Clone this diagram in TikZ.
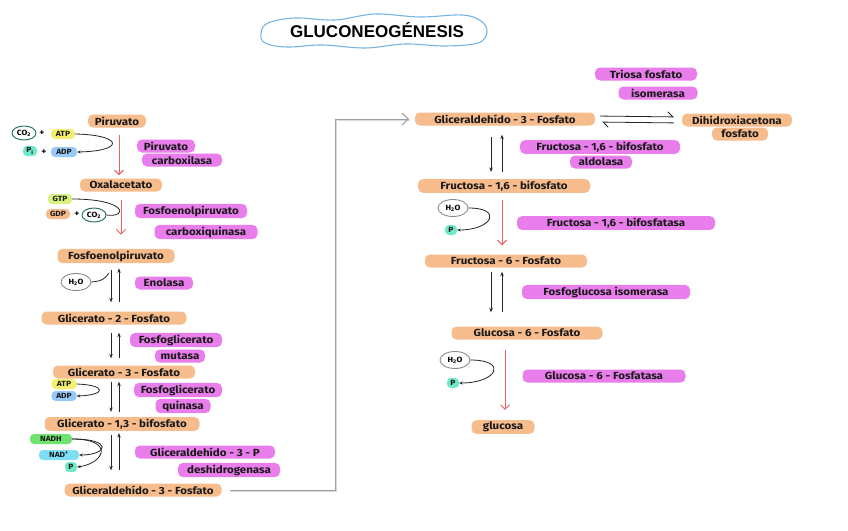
\documentclass[tikz,border=0pt]{standalone}
\usepackage{fontspec}
\setmainfont{Fira Sans}[FakeStretch=1.12]
\newfontfamily\titlefont{Liberation Sans}
\usetikzlibrary{arrows.meta,calc,shapes.geometric}
\definecolor{hlorange}{RGB}{247,188,140}
\definecolor{hlmag}{RGB}{232,125,235}
\definecolor{hlyellow}{RGB}{242,240,110}
\definecolor{hlygreen}{RGB}{215,242,125}
\definecolor{hlblue}{RGB}{150,200,248}
\definecolor{hlteal}{RGB}{110,232,200}
\definecolor{hlgreen}{RGB}{110,228,110}
\definecolor{hlcyan}{RGB}{125,222,245}
\definecolor{ringgreen}{RGB}{30,110,80}
\definecolor{ringgray}{RGB}{140,140,140}
\definecolor{redarrow}{RGB}{236,96,96}
\definecolor{cloudblue}{RGB}{120,180,225}
\tikzset{
  base/.style={font=\bfseries\fontsize{10.3}{12}\selectfont, text=black!90, inner sep=1.8pt, rounded corners=5pt, minimum height=13pt},
  org/.style={base, fill=hlorange},
  mag/.style={base, fill=hlmag},
  chip/.style={base, font=\bfseries\fontsize{7.5}{9}\selectfont, inner sep=1.3pt, rounded corners=4pt, minimum height=10pt},
  ring/.style={ellipse, line width=0.9pt, inner sep=0.6pt, font=\bfseries\fontsize{7.5}{9}\selectfont},
  plain/.style={font=\bfseries\fontsize{8.5}{9}\selectfont, inner sep=0.5pt},
  eqarr/.style={draw=black!85, line width=0.8pt, -{Stealth[length=4.5pt,width=3.5pt]}},
  harp/.style={draw=black!85, line width=0.8pt, -{Straight Barb[length=5pt,left]}},
  redarr/.style={draw=redarrow, line width=1pt, -{Straight Barb[length=4.5pt]}},
  curv/.style={draw=black!85, line width=0.8pt},
  curva/.style={curv, -{Stealth[length=3.5pt,width=3pt]}},
  conn/.style={draw=gray!75, line width=1pt, -{Straight Barb[length=6pt]}},
}
\begin{document}
\begin{tikzpicture}[x=1pt,y=-1pt]
\useasboundingbox[fill=white] (0,0) rectangle (848,530);

% ---------- title ----------
\draw[cloudblue, line width=1.1pt] plot[smooth cycle, tension=0.6] coordinates {
 (261,33) (268,23) (295,18) (335,20) (375,14) (420,17) (462,15) (481,21)
 (487,32) (478,43) (445,46) (405,44) (365,48) (322,45) (287,47) (265,43)};
\node[font=\titlefont\bfseries\fontsize{17}{20}\selectfont] (title) at (377,30) {GLUCONEOGÉNESIS};

% ---------- column coordinates ----------
\coordinate (cD) at (111,0);
\coordinate (cU) at (119,0);
\coordinate (cR1) at (119,0);
\coordinate (cR2) at (121,0);
\coordinate (rD) at (491,0);
\coordinate (rU) at (502,0);
\coordinate (rR1) at (502,0);
\coordinate (rR2) at (505,0);

% ---------- left column ----------
\node[org, minimum width=58pt] (pir) at (117,121) {Piruvato};
\node[ring, draw=ringgreen, minimum width=24pt, minimum height=14pt] (co2a) at (24,133) {CO\textsubscript{2}};
\node[plain] (pl1) at (42,133) {+};
\node[chip, fill=hlyellow, minimum width=24pt] (atp) at (63,134) {ATP};
\node[chip, fill=hlteal, minimum width=14pt] (pi) at (30,151) {P\textsubscript{i}};
\node[plain] (pl2) at (44,152) {+};
\node[chip, fill=hlblue, minimum width=26pt] (adp) at (64,152) {ADP};
\node[mag, minimum width=58pt] (pc1) at (166,146) {Piruvato};
\node[mag, minimum width=80pt] (pc2) at (182,160) {carboxilasa};

\node[org, minimum width=82pt] (oxa) at (121,185) {Oxalacetato};
\node[chip, fill=hlygreen, minimum width=24pt] (gtp) at (60,199) {GTP};
\node[chip, fill=hlorange, minimum width=24pt] (gdp) at (58,214) {GDP};
\node[plain] (pl3) at (77,214) {+};
\node[ring, draw=ringgreen, minimum width=24pt, minimum height=14pt] (co2b) at (94,215) {CO\textsubscript{2}};
\node[mag, minimum width=112pt] (pck1) at (191,211) {Fosfoenolpiruvato};
\node[mag, minimum width=103pt] (pck2) at (206,232) {carboxiquinasa};

\node[org, minimum width=117pt] (pep) at (116,256) {Fosfoenolpiruvato};
\node[ring, draw=ringgray, minimum width=30pt, minimum height=17pt] (h2oa) at (76,282) {H\textsubscript{2}O};
\coordinate (hxa) at (109,273);
\node[mag, minimum width=58pt] (eno) at (164,283) {Enolasa};

\node[org, minimum width=145pt] (g2p) at (114,318) {Glicerato - 2 - Fosfato};
\node[mag, minimum width=92pt] (pgm1) at (176,340) {Fosfoglicerato};
\node[mag, minimum width=50pt] (pgm2) at (180,356) {mutasa};

\node[org, minimum width=142pt] (g3p) at (124,372) {Glicerato - 3 - Fosfato};
\node[chip, fill=hlyellow, minimum width=25pt] (atp2) at (64,384) {ATP};
\node[chip, fill=hlblue, minimum width=25pt] (adp2) at (64,396) {ADP};
\node[mag, minimum width=88pt] (pgk1) at (178,390) {Fosfoglicerato};
\node[mag, minimum width=55pt] (pgk2) at (183,406) {quinasa};

\node[org, minimum width=155pt] (bpg) at (122,424) {Glicerato - 1,3 - bifosfato};
\node[chip, fill=hlgreen, minimum width=42pt] (nadh) at (51,439) {NADH};
\node[chip, fill=hlcyan, minimum width=40pt] (nad) at (59,455) {NAD\textsuperscript{+}};
\node[chip, fill=hlteal, minimum width=12pt] (pa) at (71,467) {P};
\node[mag, minimum width=140pt] (gd1) at (205,452) {Gliceraldehído - 3 - P};
\node[mag, minimum width=102pt] (gd2) at (229,470) {deshidrogenasa};

\node[org, minimum width=157pt] (gapL) at (143,490) {Gliceraldehído - 3 - Fosfato};

% left arrows
\draw[redarr, shorten <=7pt, shorten >=3pt] (pir.south -| cR1) -- (oxa.north -| cR1);
\draw[curva] (atp.east) .. controls +(48,1) and +(48,-1) .. (adp.east);

\draw[redarr, shorten <=8pt, shorten >=14pt] (oxa.south -| cR2) -- (pep.north -| cR2);
\draw[curv] (gtp.east) .. controls +(55,0) and +(22,3) .. (co2b.east);

\draw[eqarr, shorten <=7pt, shorten >=9pt] (pep.south -| cD) -- (g2p.north -| cD);
\draw[eqarr, shorten <=9pt, shorten >=5pt] (g2p.north -| cU) -- (pep.south -| cU);
\draw[curv] (h2oa.east) .. controls +(12,-1) and +(-4,5) .. (hxa);

\draw[eqarr, shorten <=8pt, shorten >=7pt] (g2p.south -| cD) -- (g3p.north -| cD);
\draw[eqarr, shorten <=7pt, shorten >=8pt] (g3p.north -| cU) -- (g2p.south -| cU);

\draw[eqarr, shorten <=3pt, shorten >=5pt] (g3p.south -| cD) -- (bpg.north -| cD);
\draw[eqarr, shorten <=5pt, shorten >=3pt] (bpg.north -| cU) -- (g3p.south -| cU);
\draw[curva] (atp2.east) .. controls +(30,1) and +(30,-1) .. (adp2.east);

\draw[eqarr, shorten <=4pt, shorten >=13pt] (bpg.south -| cD) -- (gapL.north -| cD);
\draw[eqarr, shorten <=13pt, shorten >=2pt] (gapL.north -| cU) -- (bpg.south -| cU);
\draw[curva] (nadh.east) .. controls +(42,0) and +(28,0) .. (nad.east);
\draw[curva] (nadh.east) .. controls +(42,0) and +(28,-4) .. (pa.east);

% ---------- connector between columns ----------
\node[org, minimum width=180pt] (gapR) at (505,119) {Gliceraldehído - 3 - Fosfato};
\coordinate (jx) at (335,0);
\draw[gray!30, line width=1.6pt, shorten <=8pt, shorten >=6pt, transform canvas={xshift=1.2pt,yshift=-1.2pt}]
  (gapL.east) -| (jx |- gapR.west) -- (gapR.west);
\draw[conn, shorten <=8pt, shorten >=6pt] (gapL.east) -| (jx |- gapR.west) -- (gapR.west);

% ---------- right column ----------
\node[mag, minimum width=102pt] (tpi1) at (646,74) {Triosa fosfato};
\node[mag, minimum width=79pt] (tpi2) at (658,93) {isomerasa};
\node[org, minimum width=110pt] (dha1) at (737,120) {Dihidroxiacetona};
\node[org, minimum width=56pt] (dha2) at (740,134) {fosfato};
\draw[harp, shorten <=5pt, shorten >=8pt] ([yshift=3pt]gapR.east) -- ([yshift=3pt]dha1.west);
\draw[harp, shorten <=8pt, shorten >=7pt] ([yshift=-3pt]dha1.west) -- ([yshift=-3pt]gapR.east);

\node[mag, minimum width=160pt] (ald1) at (600,147) {Fructosa - 1,6 - bifosfato};
\node[mag, minimum width=62pt] (ald2) at (601,162) {aldolasa};
\node[org, minimum width=172pt] (fbp) at (504,186) {Fructosa - 1,6 - bifosfato};
\draw[eqarr, shorten <=11pt, shorten >=7pt] (gapR.south -| rD) -- (fbp.north -| rD);
\draw[eqarr, shorten <=7pt, shorten >=9pt] (fbp.north -| rU) -- (gapR.south -| rU);

\node[ring, draw=ringgray, minimum width=30pt, minimum height=17pt] (h2ob) at (453,208) {H\textsubscript{2}O};
\node[chip, fill=hlteal, minimum width=12pt] (pb) at (451,230) {P};
\node[mag, minimum width=198pt] (fbpase) at (616,223) {Fructosa - 1,6 - bifosfatasa};
\node[org, minimum width=162pt] (f6p) at (506,261) {Fructosa - 6 - Fosfato};
\draw[redarr, shorten <=7pt, shorten >=9pt] (fbp.south -| rR1) -- (f6p.north -| rR1);
\draw[curva] (h2ob.east) .. controls +(35,0) and +(35,0) .. (pb.east);

\node[mag, minimum width=168pt] (pgi) at (606,292) {Fosfoglucosa isomerasa};
\node[org, minimum width=151pt] (g6p) at (527,333) {Glucosa - 6 - Fosfato};
\draw[eqarr, shorten <=4pt, shorten >=14pt] (f6p.south -| rD) -- (g6p.north -| rD);
\draw[eqarr, shorten <=14pt, shorten >=4pt] (g6p.north -| rU) -- (f6p.south -| rU);

\node[ring, draw=ringgray, minimum width=30pt, minimum height=17pt] (h2oc) at (455,360) {H\textsubscript{2}O};
\node[chip, fill=hlteal, minimum width=12pt] (pc) at (453,383) {P};
\node[mag, minimum width=163pt] (g6pase) at (604,376) {Glucosa - 6 - Fosfatasa};
\node[org, minimum width=63pt] (glc) at (503,427) {glucosa};
\draw[redarr, shorten <=10pt, shorten >=10pt] (g6p.south -| rR2) -- (glc.north -| rR2);
\draw[curva] (h2oc.east) .. controls +(38,0) and +(38,0) .. (pc.east);
\end{tikzpicture}
\end{document}
